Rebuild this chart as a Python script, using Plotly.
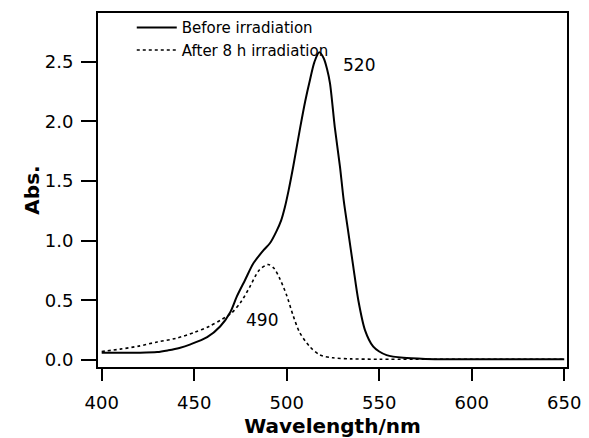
import plotly.graph_objects as go

# Before irradiation (solid)
wl_before = [400, 410, 420, 430, 436, 442, 448, 457, 464, 469.5, 473, 477.5, 482, 487.5,
             491, 494.5, 497, 499, 501, 503.5, 507.3, 510, 512.6, 515, 517.6, 520, 521.8, 523.4,
             526, 528.8, 530.8, 533.3, 536, 538.7, 542.3, 546.8, 550, 554, 563, 575, 600, 625, 650]
abs_before = [0.06, 0.06, 0.06, 0.065, 0.08, 0.10, 0.13, 0.19, 0.28, 0.40, 0.53, 0.67, 0.81, 0.92,
              0.98, 1.08, 1.17, 1.28, 1.42, 1.62, 1.95, 2.17, 2.35, 2.50, 2.58, 2.53, 2.44, 2.32,
              1.95, 1.62, 1.34, 1.07, 0.78, 0.50, 0.25, 0.11, 0.07, 0.04, 0.017, 0.008, 0.005, 0.005, 0.005]

# After 8 h irradiation (dotted)
wl_after = [400, 410, 420, 430, 440, 450, 458, 465, 470, 475, 480, 485, 490, 493, 496,
            500, 503.5, 507, 512.5, 518, 525, 535, 550, 600, 650]
abs_after = [0.07, 0.09, 0.115, 0.15, 0.18, 0.23, 0.28, 0.34, 0.39, 0.48, 0.61, 0.75, 0.80, 0.77, 0.69,
             0.54, 0.37, 0.23, 0.11, 0.04, 0.017, 0.008, 0.005, 0.005, 0.005]

series_names = ["Before irradiation", "After 8 h irradiation"]
peak_labels = ["520", "490"]
peak_pos = [(539, 2.47), (486.7, 0.335)]

x_ticks = [400, 450, 500, 550, 600, 650]
y_ticks = [0.0, 0.5, 1.0, 1.5, 2.0, 2.5]
y_tick_text = ["0.0", "0.5", "1.0", "1.5", "2.0", "2.5"]

FONT = "DejaVu Sans"

fig = go.Figure()
fig.add_trace(go.Scatter(x=wl_before, y=abs_before, mode="lines", name=series_names[0],
                         line=dict(color="black", width=2, shape="spline", smoothing=0.8)))
fig.add_trace(go.Scatter(x=wl_after, y=abs_after, mode="lines", name=series_names[1],
                         line=dict(color="black", width=1.6, dash="dot", shape="spline", smoothing=0.8)))

for txt, (px, py) in zip(peak_labels, peak_pos):
    fig.add_annotation(x=px, y=py, text=txt, showarrow=False,
                       font=dict(family=FONT, size=17, color="black"))

fig.update_layout(
    width=589, height=438,
    margin=dict(l=98, r=22, t=13, b=71, autoexpand=False),
    plot_bgcolor="white", paper_bgcolor="white",
    font=dict(family=FONT, size=17, color="black"),
    showlegend=True,
    legend=dict(x=0.072, y=1.005, xanchor="left", yanchor="top",
                bgcolor="rgba(0,0,0,0)", font=dict(family=FONT, size=15, color="black"),
                tracegroupgap=0, itemwidth=40),
    xaxis=dict(range=[398, 651.5], tickvals=x_ticks, ticks="outside", ticklen=12, tickwidth=2,
               tickcolor="black", showline=True, linecolor="black", linewidth=2, mirror=True,
               showgrid=False, zeroline=False, tickfont=dict(family=FONT, size=18),
               ticklabelstandoff=6, automargin=False,
               title=dict(text="<b>Wavelength/nm</b>", font=dict(family=FONT, size=20), standoff=12)),
    yaxis=dict(range=[-0.06, 2.91], tickvals=y_ticks, ticktext=y_tick_text, ticks="outside",
               ticklen=15, tickwidth=2, tickcolor="black", showline=True, linecolor="black",
               linewidth=2, mirror=True, showgrid=False, zeroline=False,
               tickfont=dict(family=FONT, size=18), ticklabelstandoff=4, automargin=False,
               title=dict(text="<b>Abs.</b>", font=dict(family=FONT, size=20), standoff=0)),
)

fig.write_html("out.html", config={"displayModeBar": False},
               post_script="document.body.style.margin='0';document.body.style.padding='0';"
                           "document.body.style.overflow='hidden';")
